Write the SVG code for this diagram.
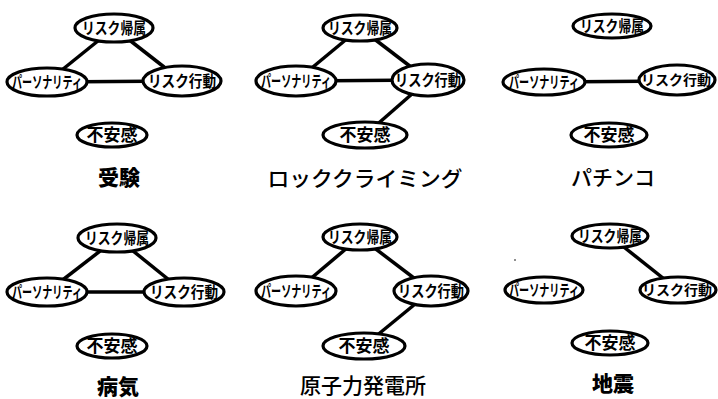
<svg xmlns="http://www.w3.org/2000/svg" width="718" height="399" viewBox="0 0 718 399">
<style>
.n ellipse{fill:#fff;stroke:#000;stroke-width:3.2}
.n text{font-family:"Noto Sans CJK JP","Noto Sans",sans-serif;font-weight:700;font-size:16px;text-anchor:middle;fill:#000}
.n text.f{font-size:17px}
.n text.s{font-size:14px}
#edges line{stroke:#000;stroke-width:3.5}
.lbl{font-family:"Noto Sans CJK JP","Noto Sans",sans-serif;font-size:21px;text-anchor:middle;fill:#000;font-weight:500}
.lbl.b{font-weight:900}
</style>
<rect width="718" height="399" fill="#fff"/>
<g id="edges">
<line x1="114" y1="28" x2="47" y2="82"/>
<line x1="114" y1="28" x2="182" y2="81"/>
<line x1="47" y1="82" x2="182" y2="81"/>
<line x1="360" y1="28" x2="296" y2="81"/>
<line x1="360" y1="28" x2="428" y2="80"/>
<line x1="296" y1="81" x2="428" y2="80"/>
<line x1="428" y1="80" x2="365" y2="135"/>
<line x1="544" y1="82" x2="677" y2="81"/>
<line x1="117" y1="238" x2="47" y2="292"/>
<line x1="117" y1="238" x2="184" y2="292"/>
<line x1="47" y1="292" x2="184" y2="292"/>
<line x1="360" y1="237" x2="296" y2="291"/>
<line x1="360" y1="237" x2="431" y2="291"/>
<line x1="431" y1="291" x2="364" y2="346"/>
<line x1="610" y1="236" x2="678" y2="290"/>
</g>
<g id="p1-kizoku" class="n"><ellipse cx="114" cy="28" rx="39" ry="14"/><text x="114" y="34" textLength="64" lengthAdjust="spacingAndGlyphs">リスク帰属</text></g>
<g id="p1-person" class="n"><ellipse cx="47" cy="82" rx="40" ry="14"/><text x="47" y="88" textLength="70" lengthAdjust="spacingAndGlyphs">パーソナリティ</text></g>
<g id="p1-koudou" class="n"><ellipse cx="182" cy="81" rx="39" ry="15"/><text x="182" y="87" textLength="68" lengthAdjust="spacingAndGlyphs">リスク行動</text></g>
<g id="p1-fuan" class="n"><ellipse cx="112" cy="135" rx="35" ry="12"/><text class="f" x="112" y="141">不安感</text></g>
<text class="lbl b" x="119" y="185">受験</text>

<g id="p2-kizoku" class="n"><ellipse cx="360" cy="28" rx="37" ry="13"/><text x="360" y="34" textLength="64" lengthAdjust="spacingAndGlyphs">リスク帰属</text></g>
<g id="p2-person" class="n"><ellipse cx="296" cy="81" rx="40" ry="15"/><text x="296" y="87" textLength="70" lengthAdjust="spacingAndGlyphs">パーソナリティ</text></g>
<g id="p2-koudou" class="n"><ellipse cx="428" cy="80" rx="36" ry="16"/><text x="428" y="86" textLength="66" lengthAdjust="spacingAndGlyphs">リスク行動</text></g>
<g id="p2-fuan" class="n"><ellipse cx="365" cy="135" rx="42" ry="13"/><text class="f" x="365" y="141">不安感</text></g>
<text class="lbl" x="365" y="186" textLength="195" lengthAdjust="spacingAndGlyphs">ロッククライミング</text>

<g id="p3-kizoku" class="n"><ellipse cx="612" cy="26" rx="39" ry="12"/><text x="612" y="32" textLength="64" lengthAdjust="spacingAndGlyphs">リスク帰属</text></g>
<g id="p3-person" class="n"><ellipse cx="544" cy="82" rx="41" ry="13"/><text x="544" y="88" textLength="70" lengthAdjust="spacingAndGlyphs">パーソナリティ</text></g>
<g id="p3-koudou" class="n"><ellipse cx="677" cy="80" rx="38" ry="15"/><text class="s" x="676" y="85">リスク行動</text></g>
<g id="p3-fuan" class="n"><ellipse cx="609" cy="135" rx="38" ry="12"/><text class="f" x="609" y="141">不安感</text></g>
<text class="lbl" x="613" y="185">パチンコ</text>

<g id="p4-kizoku" class="n"><ellipse cx="117" cy="238" rx="39" ry="14"/><text x="117" y="244" textLength="64" lengthAdjust="spacingAndGlyphs">リスク帰属</text></g>
<g id="p4-person" class="n"><ellipse cx="47" cy="292" rx="40" ry="14"/><text x="47" y="298" textLength="70" lengthAdjust="spacingAndGlyphs">パーソナリティ</text></g>
<g id="p4-koudou" class="n"><ellipse cx="184" cy="292" rx="40" ry="14"/><text x="184" y="298" textLength="68" lengthAdjust="spacingAndGlyphs">リスク行動</text></g>
<g id="p4-fuan" class="n"><ellipse cx="112" cy="346" rx="35" ry="12"/><text class="f" x="112" y="352">不安感</text></g>
<text class="lbl b" x="118" y="394">病気</text>

<g id="p5-kizoku" class="n"><ellipse cx="360" cy="237" rx="37" ry="13"/><text x="360" y="243" textLength="64" lengthAdjust="spacingAndGlyphs">リスク帰属</text></g>
<g id="p5-person" class="n"><ellipse cx="296" cy="291" rx="40" ry="15"/><text x="296" y="297" textLength="70" lengthAdjust="spacingAndGlyphs">パーソナリティ</text></g>
<g id="p5-koudou" class="n"><ellipse cx="431" cy="291" rx="37" ry="15"/><text x="431" y="297" textLength="66" lengthAdjust="spacingAndGlyphs">リスク行動</text></g>
<g id="p5-fuan" class="n"><ellipse cx="364" cy="346" rx="41" ry="13"/><text class="f" x="364" y="352">不安感</text></g>
<text class="lbl" x="363" y="393">原子力発電所</text>

<g id="p6-kizoku" class="n"><ellipse cx="610" cy="236" rx="38" ry="12"/><text x="610" y="242" textLength="64" lengthAdjust="spacingAndGlyphs">リスク帰属</text></g>
<g id="p6-person" class="n"><ellipse cx="544" cy="290" rx="39" ry="13"/><text x="544" y="296" textLength="70" lengthAdjust="spacingAndGlyphs">パーソナリティ</text></g>
<g id="p6-koudou" class="n"><ellipse cx="678" cy="290" rx="38" ry="13"/><text class="s" x="677" y="295">リスク行動</text></g>
<g id="p6-fuan" class="n"><ellipse cx="610" cy="343" rx="38" ry="12"/><text class="f" x="610" y="349">不安感</text></g>
<text class="lbl b" x="613" y="391">地震</text>
<circle cx="515" cy="260" r="0.8" fill="#000"/>
</svg>
